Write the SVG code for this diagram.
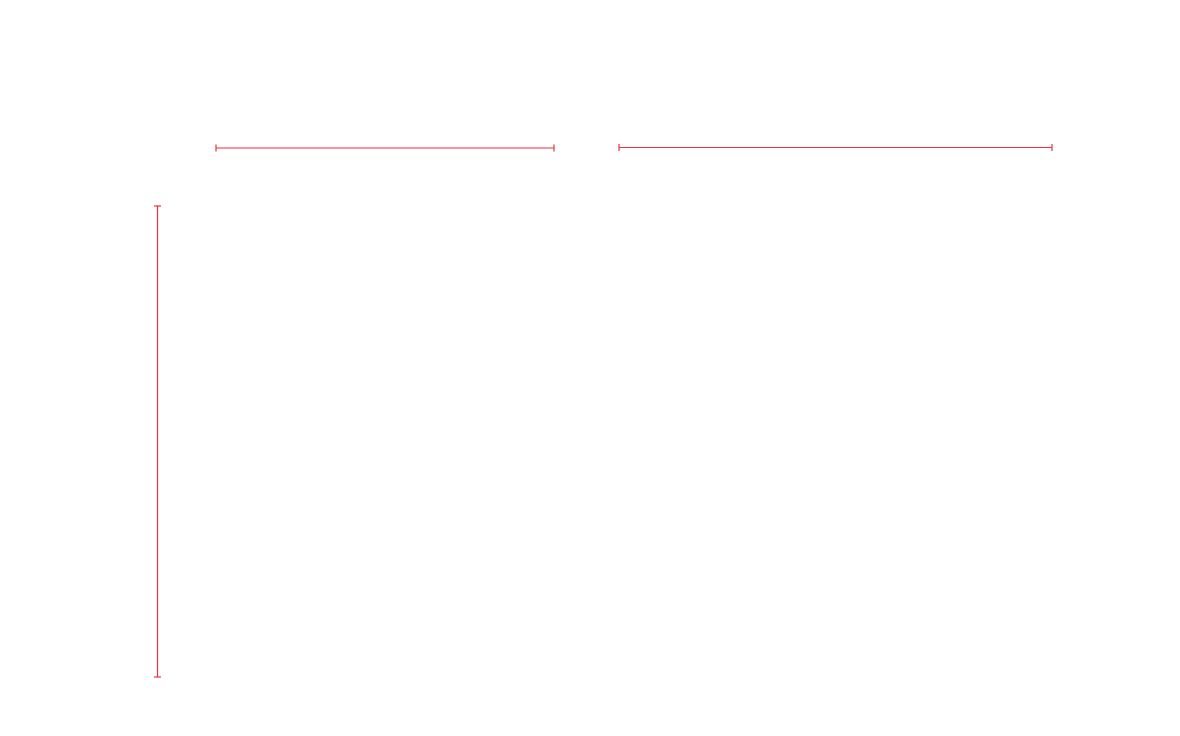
<svg xmlns="http://www.w3.org/2000/svg" width="1180" height="736" viewBox="0 0 1180 736">
<style>
.dim{stroke:#e8333f;stroke-width:1.2;fill:none}
</style>
<rect width="1180" height="736" fill="#ffffff"/>
<g id="connectors">
<g id="dim-top-left">
<line class="dim" x1="216" y1="148" x2="554" y2="148"/>
<line class="dim" x1="216" y1="144.5" x2="216" y2="151.5"/>
<line class="dim" x1="554" y1="144.5" x2="554" y2="151.5"/>
</g>
<g id="dim-top-right">
<line class="dim" x1="619" y1="147.5" x2="1052" y2="147.5"/>
<line class="dim" x1="619" y1="144" x2="619" y2="151"/>
<line class="dim" x1="1052" y1="144" x2="1052" y2="151"/>
</g>
<g id="dim-left">
<line class="dim" x1="157.5" y1="206" x2="157.5" y2="677"/>
<line class="dim" x1="154" y1="206" x2="161" y2="206"/>
<line class="dim" x1="154" y1="677" x2="161" y2="677"/>
</g>
</g>
</svg>
